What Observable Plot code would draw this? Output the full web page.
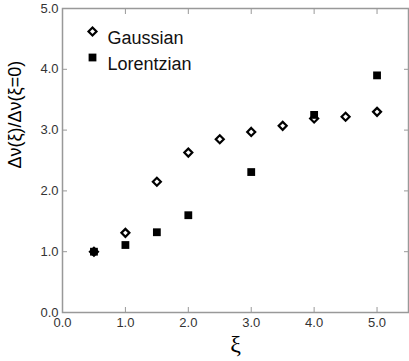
<!DOCTYPE html>
<html><head><meta charset="utf-8">
<script src="https://cdn.jsdelivr.net/npm/d3@7"></script>
<script src="https://cdn.jsdelivr.net/npm/@observablehq/plot@0.6"></script>
<style>body{margin:0;background:#fff}</style>
</head><body><div id="chart"></div>
<script>
const gaussX = [0.5, 1.0, 1.5, 2.0, 2.5, 3.0, 3.5, 4.0, 4.5, 5.0];
const gaussY = [1.0, 1.31, 2.15, 2.63, 2.85, 2.97, 3.07, 3.19, 3.22, 3.30];
const lorX = [0.5, 1.0, 1.5, 2.0, 3.0, 4.0, 5.0];
const lorY = [1.0, 1.11, 1.32, 1.60, 2.31, 3.25, 3.90];
const xTicks = [0, 1, 2, 3, 4, 5];
const yTicks = [0, 1, 2, 3, 4, 5];
const legendLabels = ["Gaussian", "Lorentzian"];

const gauss = gaussX.map((x, i) => ({x, y: gaussY[i]}));
const lor = lorX.map((x, i) => ({x, y: lorY[i]}));
const fmt = d3.format(".1f");
const tickCol = "#999";
const labCol = "#333";

const chart = Plot.plot({
  width: 409, height: 361,
  marginLeft: 62, marginRight: 1, marginTop: 8, marginBottom: 49,
  style: {fontFamily: "Liberation Sans, Arial, sans-serif", background: "#fff"},
  x: {domain: [0, 5.5]},
  y: {domain: [0, 5]},
  marks: [
    Plot.frame({stroke: tickCol, strokeWidth: 1.5}),
    Plot.axisX({ticks: xTicks, tickFormat: fmt, tickSize: -5, stroke: tickCol, color: labCol, fontSize: 13, tickPadding: 10, label: null}),
    Plot.axisX({anchor: "top", ticks: xTicks, tickFormat: () => "", tickSize: -5, stroke: tickCol, label: null}),
    Plot.axisY({ticks: yTicks, tickFormat: fmt, tickSize: -5, stroke: tickCol, color: labCol, fontSize: 13, tickPadding: 9, label: null}),
    Plot.axisY({anchor: "right", ticks: yTicks, tickFormat: () => "", tickSize: -5, stroke: tickCol, label: null}),
    Plot.dot(gauss, {x: "x", y: "y", symbol: "diamond2", r: 3.6, stroke: "#000", strokeWidth: 2.2, fill: "#fff"}),
    Plot.dot(lor, {x: "x", y: "y", symbol: "square", r: 4.4, fill: "#000", stroke: "none"}),
    Plot.dot([legendLabels[0]], {frameAnchor: "top-left", dx: 30, dy: 23, symbol: "diamond2", r: 3.6, stroke: "#000", strokeWidth: 2.2, fill: "#fff"}),
    Plot.dot([legendLabels[1]], {frameAnchor: "top-left", dx: 30, dy: 49, symbol: "square", r: 4.4, fill: "#000", stroke: "none"}),
    Plot.text([legendLabels[0]], {frameAnchor: "top-left", dx: 45, dy: 23, text: d => d, textAnchor: "start", fontSize: 18, fill: "#111"}),
    Plot.text([legendLabels[1]], {frameAnchor: "top-left", dx: 45, dy: 49, text: d => d, textAnchor: "start", fontSize: 18, fill: "#111"}),
    Plot.text(["Δν(ξ)/Δν(ξ=0)"], {frameAnchor: "left", dx: -47, dy: 8, rotate: -90, text: d => d, fontSize: 18, fontFamily: "Liberation Sans, Arial, sans-serif", fill: "#000"}),
    Plot.text(["ξ"], {frameAnchor: "bottom", dy: 39, text: d => d, fontSize: 24, fontFamily: "Liberation Serif, Times New Roman, serif", fill: "#000"})
  ]
});
document.getElementById("chart").append(chart);
</script>
</body></html>
